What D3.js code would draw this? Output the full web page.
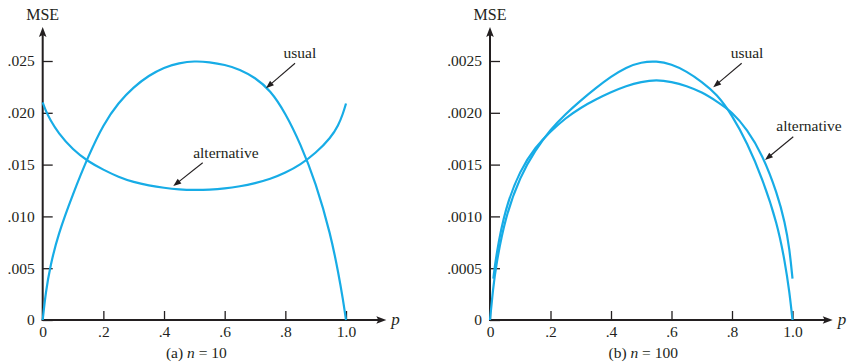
<!DOCTYPE html>
<html>
<head>
<meta charset="utf-8">
<script src="https://cdn.jsdelivr.net/npm/d3@7"></script>
<style>
body { margin: 0; background: #fff; }
text { font-family: "Liberation Serif", "Times New Roman", serif; fill: #231f20; }
</style>
</head>
<body>
<div id="chart-area"></div>
<script>
var width = 847;
var height = 363;

// tick values and labels
var xTicks = [0, 0.2, 0.4, 0.6, 0.8, 1.0];
var xLabels = ["0", ".2", ".4", ".6", ".8", "1.0"];
var yTicksA = [0, 0.005, 0.010, 0.015, 0.020, 0.025];
var yLabelsA = ["0", ".005", ".010", ".015", ".020", ".025"];
var yTicksB = [0, 0.0005, 0.0010, 0.0015, 0.0020, 0.0025];
var yLabelsB = ["0", ".0005", ".0010", ".0015", ".0020", ".0025"];

// (a) n = 10
var pA = [0, 0.01, 0.025, 0.05, 0.1, 0.15, 0.2, 0.25, 0.3, 0.35, 0.4, 0.45, 0.5,
          0.55, 0.6, 0.65, 0.7, 0.75, 0.8, 0.85, 0.9, 0.95, 0.975, 0.99, 1.0];
var usualA = [0, 0.0027, 0.0052, 0.0082, 0.0122, 0.0158, 0.0189, 0.0210, 0.0225, 0.0236, 0.0244, 0.0248, 0.0250,
              0.0249, 0.02465, 0.0242, 0.0234, 0.0222, 0.0200, 0.0170, 0.0133, 0.0082, 0.0045, 0.0020, 0];
var altA = [0.0210, 0.0202, 0.0193, 0.0181, 0.0164, 0.0153, 0.0145, 0.0138, 0.0133, 0.01298, 0.01275, 0.0126, 0.01255,
            0.01258, 0.01268, 0.0129, 0.0132, 0.0136, 0.0142, 0.0150, 0.0161, 0.0176, 0.0188, 0.0199, 0.0209];

// (b) n = 100
var pB = [0, 0.01, 0.02, 0.05, 0.1, 0.15, 0.2, 0.25, 0.3, 0.35, 0.4, 0.45, 0.5,
          0.55, 0.6, 0.65, 0.7, 0.75, 0.8, 0.85, 0.9, 0.95, 0.975, 0.99, 1.0];
var usualB = [0, 0.0003, 0.00053, 0.00099, 0.00139, 0.00164, 0.00184, 0.00199, 0.00212, 0.00224, 0.00235, 0.00244, 0.00249,
              0.00250, 0.00247, 0.00240, 0.00230, 0.00218, 0.00198, 0.00171, 0.00137, 0.00093, 0.00056, 0.00027, 0];
var pAltB = [0.011, 0.02, 0.05, 0.1, 0.15, 0.2, 0.25, 0.3, 0.35, 0.4, 0.45, 0.5,
             0.55, 0.6, 0.65, 0.7, 0.75, 0.8, 0.85, 0.9, 0.95, 0.975, 0.99, 1.0];
var altB = [0.0004, 0.00062, 0.00108, 0.00145, 0.00167, 0.00182, 0.00195, 0.00205, 0.00213, 0.00220, 0.00226, 0.00230,
            0.00232, 0.00230, 0.00226, 0.00220, 0.00211, 0.00201, 0.00184, 0.00160, 0.00122, 0.00094, 0.00069, 0.0004];

var curveColor = "#17ace6";
var ink = "#231f20";

var svg = d3.select("#chart-area").append("svg")
    .attr("width", width)
    .attr("height", height);

var panels = [
    {
        left: 42.7, right: 346, yMax: 0.025,
        yTicks: yTicksA, yLabels: yLabelsA,
        usual: d3.zip(pA, usualA), alt: d3.zip(pA, altA),
        tag: "(a) ", n: "10",
        usualNote: {text: [0.848, 0.0253], from: [0.832, 0.02478], to: [0.736, 0.02237]},
        altNote: {text: [0.604, 0.01561], from: [0.5275, 0.01518], to: [0.4306, 0.01293]}
    },
    {
        left: 490, right: 792.5, yMax: 0.0025,
        yTicks: yTicksB, yLabels: yLabelsB,
        usual: d3.zip(pB, usualB), alt: d3.zip(pAltB, altB),
        tag: "(b) ", n: "100",
        usualNote: {text: [0.8496, 0.002526], from: [0.832, 0.002478], to: [0.738, 0.002246]},
        altNote: {text: [1.0545, 0.001827], from: [1.0026, 0.001769], to: [0.909, 0.001544]}
    }
];

panels.forEach(function(pn) {
    drawPanel(pn);
});

function drawPanel(pn)
{
    var x = d3.scaleLinear().domain([0, 1]).range([pn.left, pn.right]);
    var y = d3.scaleLinear().domain([0, pn.yMax]).range([320, 61]);
    var g = svg.append("g");

    //y axis, ticks pointing inward
    var yAxis = d3.axisLeft(y)
        .tickValues(pn.yTicks)
        .tickFormat(function(d, i) { return pn.yLabels[i]; })
        .tickSizeInner(-10)
        .tickSizeOuter(0)
        .tickPadding(8);

    var gy = g.append("g")
        .attr("transform", "translate(" + pn.left + ",0)")
        .style("color", ink)
        .call(yAxis);
    gy.select(".domain").remove();
    gy.selectAll("line").attr("stroke-width", 1.3);
    gy.selectAll("text")
        .attr("font-size", 15.5)
        .attr("font-family", "Liberation Serif, serif")
        .attr("fill", ink);

    //x axis
    var xAxis = d3.axisBottom(x)
        .tickValues(xTicks)
        .tickFormat(function(d, i) { return xLabels[i]; })
        .tickSizeInner(-9)
        .tickSizeOuter(0)
        .tickPadding(6);

    var gx = g.append("g")
        .attr("transform", "translate(0,320)")
        .style("color", ink)
        .call(xAxis);
    gx.select(".domain").remove();
    gx.selectAll("line").attr("stroke-width", 1.3);
    gx.selectAll("text")
        .attr("font-size", 15.5)
        .attr("font-family", "Liberation Serif, serif")
        .attr("fill", ink);

    //axis lines with arrow heads
    var yTip = y(pn.yMax * 1.131);
    var xTip = x(1.133);

    g.append("line")
        .attr("x1", pn.left).attr("y1", 321)
        .attr("x2", pn.left).attr("y2", yTip + 6)
        .attr("stroke", ink)
        .attr("stroke-width", 2);
    g.append("path")
        .attr("d", "M" + pn.left + "," + yTip + "L" + (pn.left - 3.8) + "," + (yTip + 10) +
            "L" + pn.left + "," + (yTip + 8) + "L" + (pn.left + 3.8) + "," + (yTip + 10) + "Z")
        .attr("fill", ink);

    g.append("line")
        .attr("x1", pn.left - 1).attr("y1", 320)
        .attr("x2", xTip - 6).attr("y2", 320)
        .attr("stroke", ink)
        .attr("stroke-width", 2);
    g.append("path")
        .attr("d", "M" + xTip + ",320L" + (xTip - 10) + "," + (320 - 3.8) +
            "L" + (xTip - 8) + ",320L" + (xTip - 10) + "," + (320 + 3.8) + "Z")
        .attr("fill", ink);

    //axis titles
    g.append("text")
        .text("MSE")
        .attr("x", pn.left)
        .attr("y", 20)
        .attr("text-anchor", "middle")
        .attr("font-size", 16);

    g.append("text")
        .text("p")
        .attr("x", xTip + 5)
        .attr("y", 325)
        .attr("font-size", 17)
        .attr("font-style", "italic");

    //caption
    var cap = g.append("text")
        .attr("x", (pn.left + pn.right) / 2 + 2)
        .attr("y", 358)
        .attr("text-anchor", "middle")
        .attr("font-size", 15.5);
    cap.append("tspan").text(pn.tag);
    cap.append("tspan").text("n").attr("font-style", "italic");
    cap.append("tspan").text(" = " + pn.n);

    //curves, b-spline to smooth the hand read points
    var line = d3.line()
        .x(function(d) { return x(d[0]); })
        .y(function(d) { return y(d[1]); })
        .curve(d3.curveBasis);

    [pn.usual, pn.alt].forEach(function(series) {
        g.append("path")
            .attr("d", line(series))
            .attr("fill", "none")
            .attr("stroke", curveColor)
            .attr("stroke-width", 2.2);
    });

    //labels with pointer arrows
    [[pn.usualNote, "usual"], [pn.altNote, "alternative"]].forEach(function(n) {
        var note = n[0];
        g.append("text")
            .text(n[1])
            .attr("x", x(note.text[0]))
            .attr("y", y(note.text[1]))
            .attr("text-anchor", "middle")
            .attr("font-size", 15.5);

        var x1 = x(note.from[0]), y1 = y(note.from[1]);
        var x2 = x(note.to[0]), y2 = y(note.to[1]);
        var ang = Math.atan2(y2 - y1, x2 - x1);
        var len = 8, half = 3;
        var bx = x2 - len * Math.cos(ang), by = y2 - len * Math.sin(ang);

        g.append("line")
            .attr("x1", x1).attr("y1", y1)
            .attr("x2", bx + 2 * Math.cos(ang)).attr("y2", by + 2 * Math.sin(ang))
            .attr("stroke", ink)
            .attr("stroke-width", 1.1);
        g.append("path")
            .attr("d", "M" + x2 + "," + y2 +
                "L" + (bx - half * Math.sin(ang)) + "," + (by + half * Math.cos(ang)) +
                "L" + (bx + half * Math.sin(ang)) + "," + (by - half * Math.cos(ang)) + "Z")
            .attr("fill", ink);
    });
}
</script>
</body>
</html>
